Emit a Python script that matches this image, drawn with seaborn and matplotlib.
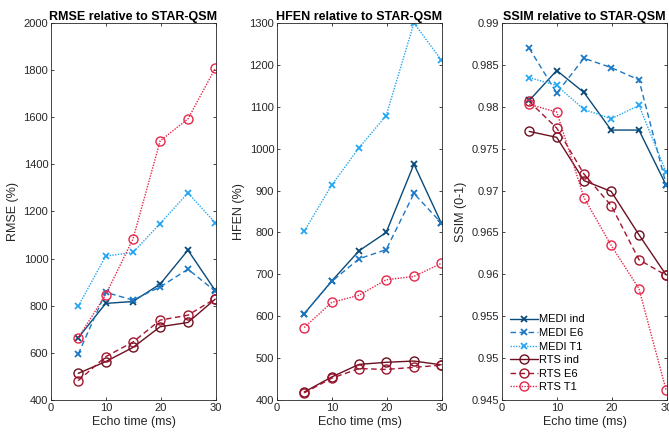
import numpy as np
import pandas as pd
import matplotlib
matplotlib.use("Agg")
import matplotlib.pyplot as plt
import seaborn as sns
from matplotlib.ticker import FormatStrFormatter, FuncFormatter
from matplotlib.lines import Line2D

# ---------------- data ----------------
echo_time = [4.95, 9.95, 14.9, 19.85, 24.9, 29.85]
series = ["MEDI ind", "MEDI E6", "MEDI T1", "RTS ind", "RTS E6", "RTS T1"]

rmse_medi_ind = [664, 810, 818, 892, 1036, 865]
rmse_medi_e6 = [595, 857, 824, 880, 955, 862]
rmse_medi_t1 = [798, 1011, 1026, 1149, 1279, 1152]
rmse_rts_ind = [513, 563, 623, 711, 729, 828]
rmse_rts_e6 = [482, 584, 646, 739, 760, 830]
rmse_rts_t1 = [664, 847, 1083, 1500, 1593, 1807]

hfen_medi_ind = [606, 684, 756, 800, 963, 823]
hfen_medi_e6 = [606, 683, 737, 759, 893, 823]
hfen_medi_t1 = [803, 913, 1002, 1079, 1300, 1212]
hfen_rts_ind = [419, 455, 485, 490, 493, 484]
hfen_rts_e6 = [417, 452, 475, 473, 478, 483]
hfen_rts_t1 = [573, 633, 650, 687, 695, 726]

ssim_medi_ind = [0.98075, 0.98433, 0.98171, 0.97722, 0.97722, 0.97063]
ssim_medi_e6 = [0.98698, 0.98163, 0.98579, 0.98468, 0.98321, 0.97070]
ssim_medi_t1 = [0.98349, 0.98254, 0.97968, 0.97857, 0.98016, 0.97222]
ssim_rts_ind = [0.97706, 0.97635, 0.97119, 0.96990, 0.96472, 0.95992]
ssim_rts_e6 = [0.98063, 0.97746, 0.97198, 0.96821, 0.96175, 0.95988]
ssim_rts_t1 = [0.98028, 0.97937, 0.96917, 0.96345, 0.95829, 0.94615]

panels = [
    ("RMSE relative to STAR-QSM", "RMSE (%)",
     [rmse_medi_ind, rmse_medi_e6, rmse_medi_t1, rmse_rts_ind, rmse_rts_e6, rmse_rts_t1],
     (400, 2000), np.arange(400, 2001, 200)),
    ("HFEN relative to STAR-QSM", "HFEN (%)",
     [hfen_medi_ind, hfen_medi_e6, hfen_medi_t1, hfen_rts_ind, hfen_rts_e6, hfen_rts_t1],
     (400, 1300), np.arange(400, 1301, 100)),
    ("SSIM relative to STAR-QSM", "SSIM (0-1)",
     [ssim_medi_ind, ssim_medi_e6, ssim_medi_t1, ssim_rts_ind, ssim_rts_e6, ssim_rts_t1],
     (0.945, 0.99), np.linspace(0.945, 0.99, 10)),
]

# ---------------- style ----------------
sns.set_theme(style="ticks")
plt.rcParams["font.family"] = ["Liberation Sans", "DejaVu Sans"]
axis_col = "#262626"
plt.rcParams.update({
    "axes.edgecolor": axis_col, "xtick.color": axis_col, "ytick.color": axis_col,
    "axes.labelcolor": axis_col, "text.color": "black",
    "xtick.direction": "in", "ytick.direction": "in",
    "xtick.top": True, "ytick.right": True,
    "xtick.major.size": 2.5, "ytick.major.size": 2.5,
    "xtick.major.width": 0.6, "ytick.major.width": 0.6,
    "axes.linewidth": 0.6,
})

colors = ["#0a4a78", "#1c78c4", "#24a6f2", "#6c0f1f", "#a3142f", "#e6264a"]
linestyles = ["-", (0, (4, 2.5)), (0, (1, 1)), "-", (0, (4, 2.5)), (0, (1, 1))]
markers = ["x", "x", "x", "o", "o", "o"]

fig = plt.figure(figsize=(6.69, 4.38), dpi=100)
lefts = [51 / 669, 277 / 669, 502 / 669]
width = 165 / 669
bottom = (438 - 400) / 438
height = (400 - 23) / 438

def mstyle(j):
    is_circle = markers[j] == "o"
    return dict(marker=markers[j],
                markersize=6.5 if is_circle else 5,
                markerfacecolor="none" if is_circle else colors[j],
                markeredgecolor=colors[j],
                markeredgewidth=1.0 if is_circle else 1.3)

for i, (title, ylabel, data, ylim, yticks) in enumerate(panels):
    ax = fig.add_axes([lefts[i], bottom, width, height])
    for j, name in enumerate(series):
        df = pd.DataFrame({"t": echo_time, "v": data[j]})
        sns.lineplot(data=df, x="t", y="v", ax=ax, color=colors[j],
                     linestyle=linestyles[j], linewidth=1.0,
                     label=name, legend=False, sort=False, **mstyle(j))
    ax.set_xlim(0, 30)
    ax.set_xticks([0, 10, 20, 30])
    ax.set_ylim(*ylim)
    ax.set_yticks(yticks)
    if i == 2:
        ax.yaxis.set_major_formatter(FuncFormatter(lambda v, p: f"{v:.3f}".rstrip("0").rstrip(".")))
    else:
        ax.yaxis.set_major_formatter(FormatStrFormatter("%d"))
    ax.tick_params(labelsize=8, pad=2)
    ax.set_xlabel("Echo time (ms)", fontsize=9, labelpad=2)
    ax.set_ylabel(ylabel, fontsize=9, labelpad=3)
    ax.set_title(title, fontsize=9, fontweight="bold", pad=2)
    for s in ax.spines.values():
        s.set_visible(True)
    if i == 2:
        handles = [Line2D([], [], color=colors[j], linestyle=linestyles[j], linewidth=1.0, **mstyle(j))
                   for j in range(len(series))]
        ax.legend(handles, series, loc="lower left", frameon=False, fontsize=8,
                  handlelength=2.5, handletextpad=0.1, labelspacing=0.32,
                  borderaxespad=0.3, bbox_to_anchor=(0.0, 0.0))

fig.savefig("out.png", dpi=100)
